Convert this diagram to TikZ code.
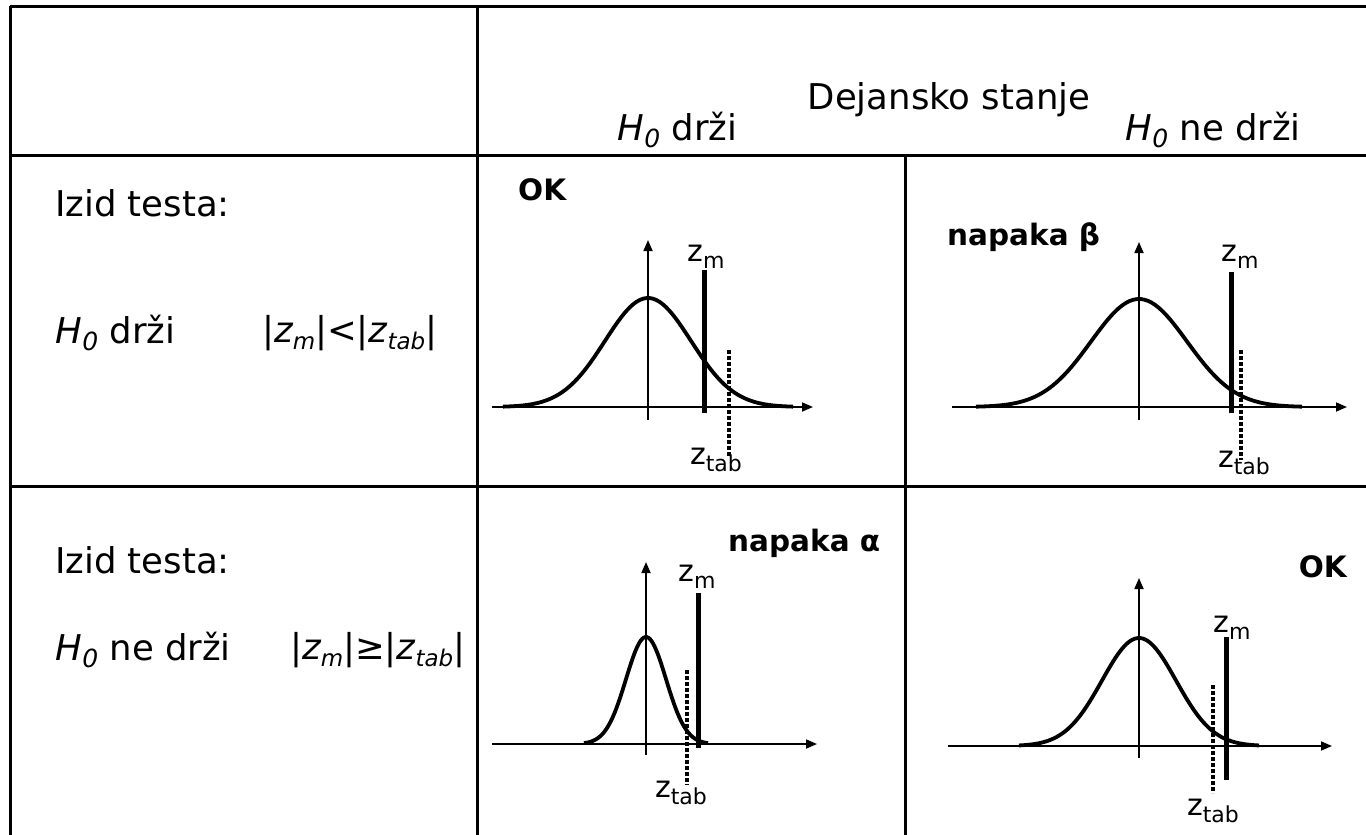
\documentclass[tikz,border=0pt]{standalone}
\usepackage{fontspec}
\setmainfont{DejaVu Sans}
\usetikzlibrary{arrows.meta}
\newcommand{\Hnull}{\textit{H\kern0.5pt\raisebox{-0.35ex}{\fontsize{25}{25}\selectfont 0}}}
\newcommand{\zlab}[1]{z\raisebox{-0.45ex}{\fontsize{22}{22}\selectfont #1}}
\newcommand{\zit}[1]{\textit{z\raisebox{-0.35ex}{\fontsize{23}{23}\selectfont #1}}}
\tikzset{
  gridline/.style={line width=3pt},
  axisline/.style={line width=1.7pt,-{Triangle[length=11pt,width=9pt]}},
  bell/.style={line width=3.8pt},
  zmline/.style={line width=5pt},
  ztabline/.style={line width=3.6pt,dash pattern=on 3.5pt off 2.5pt},
  bigtxt/.style={inner sep=0pt,font=\fontsize{35.5}{40}\selectfont},
  boldtxt/.style={inner sep=0pt,font=\fontsize{29.5}{34}\selectfont\bfseries},
  lab/.style={inner sep=0pt,font=\fontsize{30}{34}\selectfont},
}
\begin{document}
\begin{tikzpicture}[x=1pt,y=-1pt]
\useasboundingbox (0,0) rectangle (1366,835);
% table
\draw[gridline] (10,6) -- (1366,6);
\draw[gridline] (10,6) -- (10,835);
\draw[gridline] (477,6) -- (477,835);
\draw[gridline] (10,155) -- (1366,155);
\draw[gridline] (10,486) -- (1366,486);
\draw[gridline] (905,155) -- (905,835);
% header
\node[bigtxt] (deja) at (949,100) {Dejansko stanje};
\node[bigtxt,anchor=west] (hdrL) at (617,130) {\Hnull\ drži};
\node[bigtxt,anchor=west] (hdrR) at (1125,130) {\Hnull\ ne drži};
% row labels
\node[bigtxt,anchor=west] (izidA) at (55,203) {Izid testa:};
\node[bigtxt,anchor=west] (hA) at (55,333) {\Hnull\ drži};
\node[bigtxt,anchor=west] (relA) at (262,333) {\textit{|}\zit{m}\textit{|<|}\zit{tab}\textit{|}};
\node[bigtxt,anchor=west] (izidB) at (55,560) {Izid testa:};
\node[bigtxt,anchor=west] (hB) at (55,650) {\Hnull\ ne drži};
\node[bigtxt,anchor=west] (relB) at (290,650) {\textit{|}\zit{m}\textit{|≥|}\zit{tab}\textit{|}};
% cell titles
\node[boldtxt,anchor=west] (okA) at (518,190) {OK};
\node[boldtxt,anchor=west] (beta) at (947,237) {napaka β};
\node[boldtxt,anchor=west] (alpha) at (728,543) {napaka α};
\node[boldtxt,anchor=east] (okB) at (1347,567) {OK};
% plot A
\draw[axisline] (492,407) -- (813,407);
\draw[axisline] (648,420) -- (648,240);
\draw[bell] plot[domain=-145:145,samples=90] ({648+\x},{407-109*exp(-0.5*(\x/43)^2)});
\draw[zmline] (704,270) -- (704,413);
\draw[ztabline] (729,350) -- (729,457);
\node[lab] (zmA) at (706,257) {\zlab{m}};
\node[lab] (ztA) at (716,460) {\zlab{tab}};
% plot B
\draw[axisline] (952,407) -- (1347,407);
\draw[axisline] (1139,420) -- (1139,242);
\draw[bell] plot[domain=-163:163,samples=90] ({1139+\x},{407-108*exp(-0.5*(\x/48)^2)});
\draw[zmline] (1231,272) -- (1231,413);
\draw[ztabline] (1241,350) -- (1241,460);
\node[lab] (zmB) at (1240,257) {\zlab{m}};
\node[lab] (ztB) at (1244,463) {\zlab{tab}};
% plot C
\draw[axisline] (492,744) -- (817,744);
\draw[axisline] (646,755) -- (646,562);
\draw[bell] plot[domain=-62:62,samples=80] ({646+\x},{744-107*exp(-0.5*(\x/20)^2)});
\draw[zmline] (698,593) -- (698,748);
\draw[ztabline] (687,670) -- (687,785);
\node[lab] (zmC) at (697,577) {\zlab{m}};
\node[lab] (ztC) at (681,793) {\zlab{tab}};
% plot D
\draw[axisline] (948,746) -- (1332,746);
\draw[axisline] (1139,758) -- (1139,578);
\draw[bell] plot[domain=-120:120,samples=90] ({1139+\x},{746-108*exp(-0.5*(\x/37)^2)});
\draw[zmline] (1226,637) -- (1226,780);
\draw[ztabline] (1213,685) -- (1213,793);
\node[lab] (zmD) at (1232,628) {\zlab{m}};
\node[lab] (ztD) at (1213,811) {\zlab{tab}};
\end{tikzpicture}
\end{document}
